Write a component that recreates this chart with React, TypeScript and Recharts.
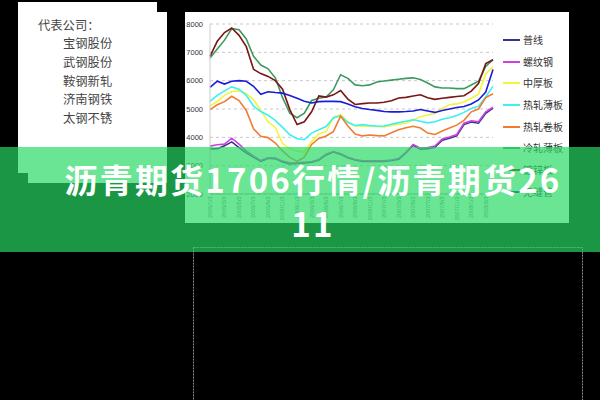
import React from 'react';
import { LineChart, Line, XAxis, YAxis, CartesianGrid } from 'recharts';

const dates = [
  '2005/1/3', '2005/2/3', '2005/3/3', '2005/4/3', '2005/5/3', '2005/6/3', '2005/7/3', '2005/8/3',
  '2005/9/3', '2005/10/3', '2005/11/3', '2005/12/3', '2006/1/3', '2006/2/3', '2006/3/3', '2006/4/3',
  '2006/5/3', '2006/6/3', '2006/7/3', '2006/8/3', '2006/9/3', '2006/10/3', '2006/11/3', '2006/12/3',
  '2007/1/3', '2007/2/3', '2007/3/3', '2007/4/3', '2007/5/3', '2007/6/3', '2007/7/3', '2007/8/3',
  '2007/9/3', '2007/10/3', '2007/11/3', '2007/12/3', '2008/1/3', '2008/2/3', '2008/3/3', '2008/4/3',
];

const puXian = [3590, 3600, 3700, 3840, 3640, 3450, 3300, 3150, 3260, 3250, 3130, 3060, 3080, 3100, 3120, 3200, 3380, 3480, 3400, 3280, 3200, 3150, 3150, 3150, 3150, 3180, 3230, 3450, 3720, 3580, 3600, 3650, 3900, 3970, 4050, 4450, 4540, 4500, 4850, 5030];
const luoWenGang = [3690, 3740, 3760, 3970, 3760, 3520, 3340, 3180, 3280, 3270, 3160, 3090, 3100, 3120, 3140, 3220, 3400, 3500, 3420, 3300, 3220, 3170, 3170, 3170, 3170, 3200, 3250, 3470, 3750, 3620, 3640, 3690, 3940, 4010, 4100, 4500, 4580, 4550, 4900, 5060];
const zhongHouBan = [5100, 5270, 5480, 5620, 5640, 5540, 5330, 4950, 4550, 4350, 3780, 3600, 3520, 3480, 3850, 4120, 4200, 4700, 4800, 4550, 4400, 4390, 4400, 4380, 4370, 4420, 4460, 4500, 4600, 4730, 4790, 4840, 5020, 5150, 5180, 5250, 5380, 5520, 6250, 6480];
const reZhaBoBan = [5270, 5480, 5640, 5780, 5700, 5480, 5100, 4910, 4780, 4600, 4350, 4090, 3950, 3920, 4150, 4270, 4380, 4680, 4760, 4520, 4420, 4450, 4420, 4390, 4400, 4460, 4520, 4570, 4620, 4570, 4510, 4550, 4640, 4690, 4770, 4880, 5020, 5100, 5430, 5800];
const reZhaJuanBan = [4980, 5150, 5260, 5450, 5300, 4950, 4300, 4040, 3990, 3800, 3520, 3290, 3150, 3300, 3750, 3960, 4050, 4200, 4750, 4400, 4120, 4050, 4080, 4060, 4050, 4160, 4270, 4340, 4390, 4330, 4150, 4100, 4220, 4330, 4430, 4600, 4900, 5000, 5400, 5540];
const lengZhaBoBan = [6800, 7120, 7430, 7840, 7800, 7470, 6860, 6550, 6420, 6100, 5400, 4850, 4690, 4850, 5300, 5380, 5420, 5680, 6210, 6080, 5850, 5820, 5850, 5950, 5990, 6020, 6050, 6080, 6100, 6040, 5920, 5780, 5740, 5740, 5720, 5720, 5850, 5980, 6500, 6740];
const duXinBan = [6860, 7390, 7700, 7860, 7600, 7200, 6400, 6250, 6150, 6000, 5700, 4980, 4450, 4550, 4900, 5460, 5420, 5500, 5650, 5350, 5160, 5190, 5210, 5210, 5240, 5290, 5390, 5410, 5460, 5500, 5400, 5340, 5380, 5410, 5440, 5470, 5630, 5900, 6600, 6740];
const wuFengGuan = [5760, 5980, 5880, 5980, 6000, 5980, 5800, 5520, 5610, 5580, 5560, 5480, 5380, 5270, 5210, 5260, 5270, 5270, 5260, 5180, 5080, 5020, 4980, 4950, 4910, 4900, 4900, 4910, 4930, 4980, 4930, 4880, 4950, 5000, 5050, 5090, 5180, 5320, 5600, 6390];

const yTicks = [2000, 3000, 4000, 5000, 6000, 7000, 8000];

const companies = ['宝钢股份', '武钢股份', '鞍钢新轧', '济南钢铁', '太钢不锈'];

const series = [
  { name: '普线', values: puXian, color: '#34348f' },
  { name: '螺纹钢', values: luoWenGang, color: '#d040dc' },
  { name: '中厚板', values: zhongHouBan, color: '#f4f43a' },
  { name: '热轧薄板', values: reZhaBoBan, color: '#3cf0f4' },
  { name: '热轧卷板', values: reZhaJuanBan, color: '#f27b32' },
  { name: '冷轧薄板', values: lengZhaBoBan, color: '#3c9a60' },
  { name: '镀锌板', values: duXinBan, color: '#7a1616' },
  { name: '无缝管', values: wuFengGuan, color: '#1c1cd8' },
];

const data = dates.map((d, i) => {
  const row: Record<string, string | number> = { date: d };
  series.forEach((s) => {
    row[s.name] = s.values[i];
  });
  return row;
});

const XTick = (props: any) => {
  const { x, y, payload } = props;
  return (
    <text
      x={x}
      y={y}
      transform={`rotate(-90 ${x} ${y})`}
      textAnchor="end"
      dy="0.35em"
      fontSize={5.5}
      fill="#777"
      fontFamily="Liberation Sans, Arial, sans-serif"
    >
      {payload.value}
    </text>
  );
};

export default function App() {
  return (
    <div
      style={{
        position: 'fixed',
        left: 0,
        top: 0,
        width: 600,
        height: 400,
        background: '#000',
        overflow: 'hidden',
        fontFamily: '"Noto Sans CJK SC", sans-serif',
      }}
    >
      {/* left panel */}
      <div style={{ position: 'absolute', left: 18, top: 2, width: 139, height: 10, background: '#fff' }} />
      <div style={{ position: 'absolute', left: 18, top: 12, width: 149, height: 161, background: '#fff' }} />
      <div style={{ position: 'absolute', left: 28, top: 173, width: 139, height: 10, background: '#fff' }} />
      <div style={{ position: 'absolute', left: 38, top: 17, fontSize: 12.3, lineHeight: '16px', color: '#444', whiteSpace: 'nowrap' }}>
        代表公司：
      </div>
      {companies.map((c, i) => (
        <div
          key={c}
          style={{
            position: 'absolute',
            left: 63,
            top: 35 + i * 18.75,
            fontSize: 12.3,
            lineHeight: '16px',
            color: '#444',
            whiteSpace: 'nowrap',
          }}
        >
          {c}
        </div>
      ))}

      {/* chart panel */}
      <div style={{ position: 'absolute', left: 185, top: 12, width: 384, height: 211, background: '#fff' }} />
      <div style={{ position: 'absolute', left: 185, top: 12 }}>
        <LineChart width={384} height={215} data={data} margin={{ top: 12, right: 76, bottom: 3, left: 3 }}>
          <CartesianGrid vertical={false} stroke="#c8c8c8" strokeDasharray="3 3" />
          <XAxis
            dataKey="date"
            interval={1}
            tick={<XTick />}
            tickLine={false}
            tickSize={0}
            tickMargin={2.5}
            height={30}
            axisLine={{ stroke: '#aaa' }}
          />
          <YAxis
            domain={[2000, 8000]}
            ticks={yTicks}
            width={22}
            tickLine={false}
            tickSize={5}
            tickMargin={2}
            axisLine={{ stroke: '#ccc' }}
            tick={{ fontSize: 7.5, fill: '#333', fontFamily: 'Liberation Sans, Arial, sans-serif' }}
          />
          {series.map((s) => (
            <Line
              key={s.name}
              type="linear"
              dataKey={s.name}
              stroke={s.color}
              strokeWidth={1.6}
              dot={false}
              isAnimationActive={false}
            />
          ))}
        </LineChart>
      </div>

      {/* legend */}
      {series.map((s, i) => (
        <div key={s.name}>
          <div
            style={{
              position: 'absolute',
              left: 503,
              top: 39 + i * 21.67,
              width: 17,
              height: 2,
              background: s.color,
            }}
          />
          <div
            style={{
              position: 'absolute',
              left: 523,
              top: 33 + i * 21.67,
              fontSize: 10,
              lineHeight: '14px',
              color: '#333',
              whiteSpace: 'nowrap',
            }}
          >
            {s.name}
          </div>
        </div>
      ))}

      {/* dashed frame below */}
      <svg width={600} height={400} style={{ position: 'absolute', left: 0, top: 0 }}>
        <rect x={193.5} y={247.5} width={389} height={200} fill="none" stroke="#8c8c8c" strokeDasharray="2 1" />
      </svg>

      {/* banner */}
      <div
        style={{
          position: 'absolute',
          left: 0,
          top: 147,
          width: 600,
          height: 105,
          background: 'rgba(38,217,100,0.69)',
        }}
      />
      <div
        style={{
          position: 'absolute',
          left: 0,
          top: 157,
          width: 626,
          textAlign: 'center',
          fontSize: 33,
          fontWeight: 700,
          lineHeight: '44px',
          letterSpacing: 2.2,
          color: '#fff',
          whiteSpace: 'nowrap',
        }}
      >
        沥青期货1706行情/沥青期货26
        <br />
        11
      </div>
    </div>
  );
}
